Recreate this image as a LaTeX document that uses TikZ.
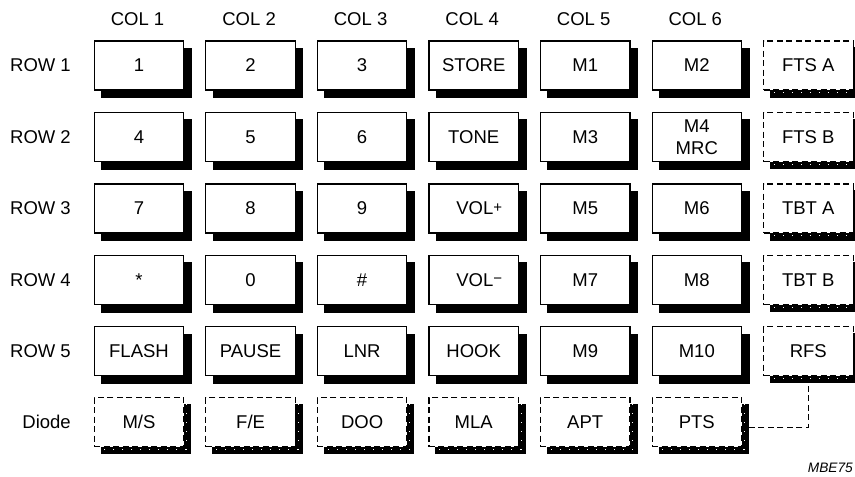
\documentclass[tikz,border=0pt]{standalone}
\usepackage{fontspec}
\setmainfont{Liberation Sans}
\pgfdeclarelayer{bg}
\pgfdeclarelayer{sh}
\pgfsetlayers{bg,sh,main}
\newcommand\keyfont{\fontsize{18.5}{21.5}\selectfont}
\newcommand\smallsign[1]{\raisebox{2.8pt}{\fontsize{15}{15}\selectfont #1}}
\tikzset{
  keybox/.style={draw=black, fill=white, line width=1.1pt, minimum width=89.5pt,
    minimum height=49pt, inner sep=0pt, align=center, font=\keyfont},
  dkeybox/.style={keybox, dash pattern=on 6pt off 3.5pt},
  lbl/.style={font=\keyfont, inner sep=0pt},
  conn/.style={line width=1.1pt, dash pattern=on 6pt off 3.5pt},
}
\newcommand\keyat[4]{%
  \node[keybox] (#1) at (#2,#3) {#4};
  \begin{pgfonlayer}{sh}
    \fill[black] ([shift={(7.5pt,-7.5pt)}]#1.south west) rectangle ([shift={(7.5pt,-7.5pt)}]#1.north east);
  \end{pgfonlayer}}
\newcommand\dkeyat[4]{%
  \node[dkeybox] (#1) at (#2,#3) {#4};
  \begin{pgfonlayer}{sh}
    \fill[black] ([shift={(7pt,-7pt)}]#1.south west) rectangle ([shift={(7pt,-7pt)}]#1.north east);
    \draw[white, line width=0.8pt, dash pattern=on 1pt off 8pt]
      ([shift={(2pt,-7pt)}]#1.north east) -- ([shift={(2pt,-2pt)}]#1.south east)
      -- ([shift={(7pt,-2pt)}]#1.south west);
  \end{pgfonlayer}}
\begin{document}
\begin{tikzpicture}[x=1pt,y=-1pt]
\useasboundingbox (0,0) rectangle (855,477);
% column labels
\node[lbl] (c1) at (137.5,19) {COL 1};
\node[lbl] (c2) at (249.1,19) {COL 2};
\node[lbl] (c3) at (360.6,19) {COL 3};
\node[lbl] (c4) at (472.2,19) {COL 4};
\node[lbl] (c5) at (583.7,19) {COL 5};
\node[lbl] (c6) at (695.3,19) {COL 6};
% row labels
\node[lbl, anchor=east] (r1) at (71,65.5) {ROW 1};
\node[lbl, anchor=east] (r2) at (71,137) {ROW 2};
\node[lbl, anchor=east] (r3) at (71,208.5) {ROW 3};
\node[lbl, anchor=east] (r4) at (71,280) {ROW 4};
\node[lbl, anchor=east] (r5) at (71,351.2) {ROW 5};
\node[lbl, anchor=east] (rd) at (71,422.2) {Diode};
% row 1
\keyat{k11}{139}{65.5}{1}
\keyat{k12}{250.6}{65.5}{2}
\keyat{k13}{362.1}{65.5}{3}
\keyat{k14}{473.7}{65.5}{STORE}
\keyat{k15}{585.2}{65.5}{M1}
\keyat{k16}{696.8}{65.5}{M2}
\dkeyat{ftsa}{808.3}{65.5}{FTS A}
% row 2
\keyat{k21}{139}{137}{4}
\keyat{k22}{250.6}{137}{5}
\keyat{k23}{362.1}{137}{6}
\keyat{k24}{473.7}{137}{TONE}
\keyat{k25}{585.2}{137}{M3}
\keyat{k26}{696.8}{137}{M4\\MRC}
\dkeyat{ftsb}{808.3}{137}{FTS B}
% row 3
\keyat{k31}{139}{208.5}{7}
\keyat{k32}{250.6}{208.5}{8}
\keyat{k33}{362.1}{208.5}{9}
\keyat{k34}{473.7}{208.5}{\hspace*{11pt}VOL\smallsign{+}}
\keyat{k35}{585.2}{208.5}{M5}
\keyat{k36}{696.8}{208.5}{M6}
\dkeyat{tbta}{808.3}{208.5}{TBT A}
% row 4
\keyat{k41}{139}{280}{*}
\keyat{k42}{250.6}{280}{0}
\keyat{k43}{362.1}{280}{\#}
\keyat{k44}{473.7}{280}{\hspace*{11pt}VOL\smallsign{−}}
\keyat{k45}{585.2}{280}{M7}
\keyat{k46}{696.8}{280}{M8}
\dkeyat{tbtb}{808.3}{280}{TBT B}
% row 5
\keyat{k51}{139}{351.2}{FLASH}
\keyat{k52}{250.6}{351.2}{PAUSE}
\keyat{k53}{362.1}{351.2}{LNR}
\keyat{k54}{473.7}{351.2}{HOOK}
\keyat{k55}{585.2}{351.2}{M9}
\keyat{k56}{696.8}{351.2}{M10}
\dkeyat{rfs}{808.3}{351.2}{RFS}
% diode row
\dkeyat{ms}{139}{422.2}{M/S}
\dkeyat{fe}{250.6}{422.2}{F/E}
\dkeyat{doo}{362.1}{422.2}{DOO}
\dkeyat{mla}{473.7}{422.2}{MLA}
\dkeyat{apt}{585.2}{422.2}{APT}
\dkeyat{pts}{696.8}{422.2}{PTS}
% connector
\begin{pgfonlayer}{bg}
  \draw[conn] (rfs.south) |- ([yshift=-5pt]pts.east);
\end{pgfonlayer}
% figure code
\node[font=\fontsize{13.7}{14}\selectfont\itshape, anchor=east, inner sep=0pt] (code) at (853,468) {MBE75};
\end{tikzpicture}
\end{document}
